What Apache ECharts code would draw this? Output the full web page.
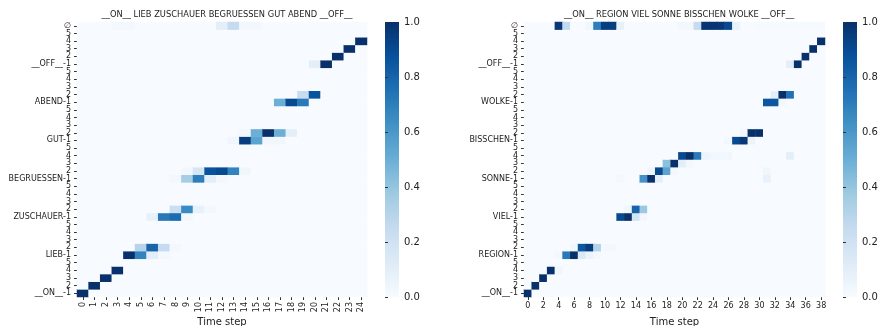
<!DOCTYPE html>
<html>
<head>
<meta charset="utf-8">
<script src="https://cdn.jsdelivr.net/npm/echarts@6/dist/echarts.min.js"></script>
<style>
  html, body { margin: 0; padding: 0; background: #fff; }
  #chart { width: 881px; height: 326px; }
</style>
</head>
<body>
<div id="chart"></div>
<script>
// words of each sentence, bottom to top, 5 HMM states each, plus the garbage row
const leftWords = ["__ON__", "LIEB", "ZUSCHAUER", "BEGRUESSEN", "GUT", "ABEND", "__OFF__"];
const rightWords = ["__ON__", "REGION", "VIEL", "SONNE", "BISSCHEN", "WOLKE", "__OFF__"];
const leftSteps = 25;
const rightSteps = 39;

// non-zero cells: [time step, state row, probability]
const leftCells = [
  [0, 0, 1.0], [1, 1, 1.0], [2, 2, 1.0], [3, 3, 1.0],
  [4, 5, 1.0], [5, 5, 0.68], [6, 5, 0.1], [7, 5, 0.02],
  [5, 6, 0.3], [6, 6, 0.8], [7, 6, 0.25], [8, 6, 0.02],
  [6, 10, 0.08], [7, 10, 0.72], [8, 10, 0.77], [9, 10, 0.03],
  [8, 11, 0.22], [9, 11, 0.65], [10, 11, 0.08], [11, 11, 0.02],
  [8, 15, 0.02], [9, 15, 0.35], [10, 15, 0.7], [11, 15, 0.1], [12, 15, 0.02],
  [9, 16, 0.03], [10, 16, 0.17], [11, 16, 0.87], [12, 16, 0.9], [13, 16, 0.68], [14, 16, 0.04],
  [13, 20, 0.04], [14, 20, 0.95], [15, 20, 0.55], [16, 20, 0.03], [17, 20, 0.03],
  [14, 21, 0.03], [15, 21, 0.5], [16, 21, 1.0], [17, 21, 0.5], [18, 21, 0.1],
  [17, 25, 0.5], [18, 25, 0.9], [19, 25, 0.72],
  [19, 26, 0.24], [20, 26, 0.87],
  [20, 30, 0.1], [21, 30, 1.0],
  [22, 31, 1.0], [23, 32, 1.0], [24, 33, 1.0],
  [3, 35, 0.02], [4, 35, 0.02], [12, 35, 0.1], [13, 35, 0.25], [14, 35, 0.03], [15, 35, 0.03]
];

const rightCells = [
  [0, 0, 1.0], [1, 1, 1.0], [2, 2, 1.0], [3, 3, 1.0], [4, 3, 0.04],
  [4, 5, 0.02], [5, 5, 0.72], [6, 5, 1.0], [7, 5, 0.14], [8, 5, 0.06], [9, 5, 0.02],
  [6, 6, 0.04], [7, 6, 0.85], [8, 6, 0.95], [9, 6, 0.3], [10, 6, 0.02], [11, 6, 0.02],
  [12, 10, 0.9], [13, 10, 1.0], [14, 10, 0.18], [15, 10, 0.03],
  [13, 11, 0.04], [14, 11, 0.8], [15, 11, 0.38],
  [12, 15, 0.02], [15, 15, 0.62], [16, 15, 1.0], [17, 15, 0.1], [31, 15, 0.07],
  [16, 16, 0.04], [17, 16, 0.9], [18, 16, 0.55], [19, 16, 0.02], [31, 16, 0.04],
  [18, 17, 0.42], [19, 17, 1.0], [20, 17, 0.1], [21, 17, 0.02],
  [20, 18, 0.9], [21, 18, 1.0], [22, 18, 0.72], [23, 18, 0.05], [24, 18, 0.03],
  [25, 18, 0.03], [26, 18, 0.03], [34, 18, 0.1],
  [26, 20, 0.03], [27, 20, 0.9], [28, 20, 0.97], [29, 20, 0.06],
  [28, 21, 0.03], [29, 21, 1.0], [30, 21, 1.0],
  [31, 25, 0.85], [32, 25, 0.85], [33, 25, 0.02],
  [32, 26, 0.1], [33, 26, 1.0], [34, 26, 0.75],
  [34, 30, 0.1], [35, 30, 1.0],
  [36, 31, 1.0], [37, 32, 1.0], [38, 33, 1.0],
  [4, 35, 0.97], [5, 35, 0.26], [8, 35, 0.04], [9, 35, 0.7], [10, 35, 0.95], [11, 35, 0.95],
  [12, 35, 0.08], [20, 35, 0.03], [21, 35, 0.03], [22, 35, 0.25], [23, 35, 0.98],
  [24, 35, 0.98], [25, 35, 0.97], [26, 35, 0.9], [27, 35, 0.07],
  [30, 35, 0.01], [31, 35, 0.01], [32, 35, 0.01], [33, 35, 0.01], [34, 35, 0.01],
  [35, 35, 0.01], [36, 35, 0.01], [37, 35, 0.01], [38, 35, 0.01]
];

const blues = ["#f7fbff", "#deebf7", "#c6dbef", "#9ecae1", "#6baed6",
  "#4292c6", "#2171b5", "#08519c", "#08306b"];
const FONT = "DejaVu Sans";

function stateLabels(words) {
  const out = [];
  words.forEach(w => {
    out.push(w + "-1");
    for (let s = 2; s <= 5; s++) out.push(String(s));
  });
  out.push("\u2205");
  return out;
}

function fullData(cells, steps, rows) {
  const m = {};
  cells.forEach(c => { m[c[0] + "_" + c[1]] = c[2]; });
  const data = [];
  for (let x = 0; x < steps; x++) {
    for (let y = 0; y < rows; y++) {
      data.push([x, y, m[x + "_" + y] || 0]);
    }
  }
  return data;
}

const leftRows = stateLabels(leftWords);
const rightRows = stateLabels(rightWords);
const range = n => Array.from({ length: n }, (_, i) => String(i));

// colorbar: the grid background carries the same Blues ramp as the visualMap
const barFill = () => new echarts.graphic.LinearGradient(0, 1, 0, 0,
  blues.map((c, i) => ({ offset: i / (blues.length - 1), color: c })));

const noBounds = { outerBoundsMode: "none", containLabel: false };
const grids = [
  Object.assign({ left: 77, top: 22, width: 290, height: 275 }, noBounds),
  Object.assign({ left: 524, top: 22, width: 301, height: 275 }, noBounds),
  Object.assign({ left: 385, top: 22, width: 14, height: 275, show: true, borderWidth: 0,
    backgroundColor: barFill() }, noBounds),
  Object.assign({ left: 843, top: 22, width: 14, height: 275, show: true, borderWidth: 0,
    backgroundColor: barFill() }, noBounds)
];

const tick = { show: true, length: 3, alignWithLabel: true, interval: 0, lineStyle: { color: "#333", width: 1 } };

function stepAxis(gridIndex, n, rotate, every) {
  return {
    type: "category", gridIndex, data: range(n),
    name: "Time step", nameLocation: "middle", nameGap: 20, nameMoveOverlap: false,
    nameTextStyle: { fontFamily: FONT, fontSize: 10, color: "#222" },
    axisLine: { show: false },
    axisTick: Object.assign({}, tick, { interval: every }),
    axisLabel: { interval: every, rotate: rotate, fontFamily: FONT, fontSize: 8, color: "#222", margin: 5 },
    splitLine: { show: false }
  };
}

function stateAxis(gridIndex, labels) {
  return {
    type: "category", gridIndex, data: labels,
    axisLine: { show: false },
    axisTick: tick,
    axisLabel: { interval: 0, fontFamily: FONT, fontSize: 8, color: "#222", margin: 6 },
    splitLine: { show: false }
  };
}

function barAxis(gridIndex) {
  return {
    type: "value", gridIndex, position: "right", min: 0, max: 1, interval: 0.2,
    axisLine: { show: false },
    axisTick: { show: true, length: 3, lineStyle: { color: "#333" } },
    axisLabel: { fontFamily: FONT, fontSize: 10, color: "#222", margin: 5,
      formatter: v => v.toFixed(1) },
    splitLine: { show: false }
  };
}

const chart = echarts.init(document.getElementById("chart"), null, { renderer: "canvas" });
chart.setOption({
  animation: false,
  backgroundColor: "#fff",
  title: [
    { text: leftWords.join(" "), left: 222, top: 6, textAlign: "center",
      textStyle: { fontFamily: FONT, fontSize: 8.3, fontWeight: "normal", color: "#222" } },
    { text: rightWords.join(" "), left: 674, top: 6, textAlign: "center",
      textStyle: { fontFamily: FONT, fontSize: 8.3, fontWeight: "normal", color: "#222" } }
  ],
  grid: grids,
  xAxis: [
    stepAxis(0, leftSteps, 90, 0),
    stepAxis(1, rightSteps, 0, 1),
    { type: "value", gridIndex: 2, show: false, min: 0, max: 1 },
    { type: "value", gridIndex: 3, show: false, min: 0, max: 1 }
  ],
  yAxis: [
    stateAxis(0, leftRows),
    stateAxis(1, rightRows),
    barAxis(2),
    barAxis(3)
  ],
  visualMap: [
    { type: "continuous", show: false, seriesIndex: [0, 1], min: 0, max: 1, inRange: { color: blues } }
  ],
  series: [
    { type: "heatmap", xAxisIndex: 0, yAxisIndex: 0, data: fullData(leftCells, leftSteps, leftRows.length),
      itemStyle: { borderWidth: 0 }, emphasis: { disabled: true } },
    { type: "heatmap", xAxisIndex: 1, yAxisIndex: 1, data: fullData(rightCells, rightSteps, rightRows.length),
      itemStyle: { borderWidth: 0 }, emphasis: { disabled: true } }
  ]
});
</script>
</body>
</html>
